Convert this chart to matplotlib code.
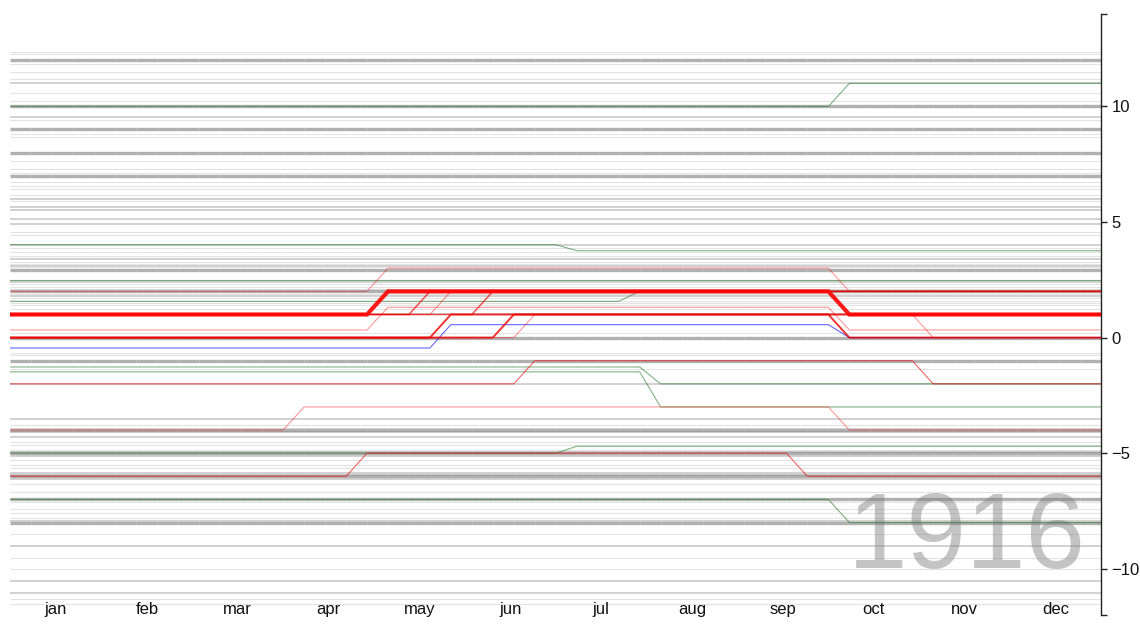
import matplotlib
matplotlib.use("Agg")
import matplotlib.pyplot as plt
from matplotlib.collections import LineCollection
import numpy as np

plt.rcParams['font.family'] = ['Liberation Sans', 'DejaVu Sans']

# ---------------- data ----------------
months = ['jan', 'feb', 'mar', 'apr', 'may', 'jun', 'jul', 'aug', 'sep', 'oct', 'nov', 'dec']
n_weeks = 52
year_label = '1916'
y_ticks = [-10, -5, 0, 5, 10]

# background (grey) series: constant level and overlap weight
gray_values = [12.34, 12.25, 12.0, 11.83, 11.5, 11.19, 11.03, 10.57, 10.25, 10.0,
               9.53, 9.42, 9.02, 8.79, 8.67, 8.0, 7.65, 7.30, 7.11, 6.98,
               6.73, 6.54, 6.42, 6.18, 5.99, 5.89, 5.67, 5.50, 5.14, 4.92,
               4.59, 4.45, 4.02, 3.87, 3.70, 3.55, 3.41, 3.27, 3.20, 3.11,
               3.05, 2.94, 2.50, 2.40, 2.30, 2.20, 2.10, 2.0, 1.90, 1.78,
               1.70, 1.60, 1.50, 1.40, 1.25, 1.0, 0.2, 0.0, -0.65, -0.75,
               -1.02, -1.35, -2.0, -3.51, -3.76, -3.90, -4.0, -4.10, -4.31, -4.50,
               -4.65, -4.85, -4.95, -5.0, -5.10, -5.31, -5.49, -5.65, -5.85, -5.95,
               -6.0, -6.10, -6.35, -6.67, -7.0, -7.10, -7.43, -7.60, -7.79, -7.95,
               -8.03, -8.51, -9.01, -9.52, -10.02, -10.52, -11.03, -11.32, -11.53]
gray_weights = [1, 1, 3, 1, 1, 1, 2, 1, 1, 3,
                2, 1, 3, 1, 1, 3, 1, 1, 1, 3,
                1, 1, 1, 1, 2, 1, 2, 2, 2, 2,
                1, 1, 2, 1, 1, 1, 2, 1, 1, 2,
                1, 3, 1, 2, 1, 1, 1, 3, 1, 2,
                1, 1, 1, 1, 1, 2, 1, 3, 1, 1,
                3, 1, 2, 2, 1, 1, 3, 2, 2, 1,
                1, 1, 2, 3, 2, 1, 1, 1, 2, 2,
                3, 2, 1, 1, 3, 1, 1, 1, 1, 2,
                3, 1, 2, 1, 1, 2, 2, 1, 1]

# green series (week, value vertices)
green_x = [[0, 39, 40, 52], [0, 26, 27, 52], [0, 52], [0, 29, 30, 52],
           [0, 30, 31, 52], [0, 30, 31, 52], [0, 26, 27, 52], [0, 39, 40, 52]]
green_y = [[10, 10, 11, 11], [4.02, 4.02, 3.76, 3.76], [2.48, 2.48], [1.57, 1.57, 2.0, 2.0],
           [-1.27, -1.27, -2.0, -2.0], [-1.48, -1.48, -3.0, -3.0], [-5.0, -5.0, -4.7, -4.7],
           [-7.0, -7.0, -8.0, -8.0]]

# blue series
blue_x = [0, 20, 21, 39, 40, 52]
blue_y = [-0.45, -0.45, 0.56, 0.56, 0.0, 0.0]

# light red series
pink_x = [[0, 20, 21, 52], [0, 24, 25, 43, 44, 52], [0, 17, 18, 39, 40, 52],
          [0, 17, 18, 39, 40, 52], [0, 13, 14, 39, 40, 52]]
pink_y = [[1, 1, 2, 2], [0, 0, 1, 1, 0, 0], [0.33, 0.33, 1.31, 1.31, 0.33, 0.33],
          [2, 2, 3, 3, 2, 2], [-4, -4, -3, -3, -4, -4]]

# thin red series
thin_red_x = [[0, 24, 25, 43, 44, 52], [0, 16, 17, 37, 38, 52]]
thin_red_y = [[-2, -2, -1, -1, -2, -2], [-6, -6, -5, -5, -6, -6]]

# medium red series
red_x = [[0, 19, 20, 52], [0, 22, 23, 52]]
red_y = [[1, 1, 2, 2], [1, 1, 2, 2]]

# bolder red series
bold_red_x = [[0, 20, 21, 39, 40, 52], [0, 23, 24, 52]]
bold_red_y = [[0, 0, 1, 1, 0, 0], [0, 0, 1, 1]]

# highlighted series
main_x = [0, 17, 18, 39, 40, 52]
main_y = [1, 1, 2, 2, 1, 1]

# ---------------- figure ----------------
W, H = 1140, 633
fig = plt.figure(figsize=(W / 100, H / 100), dpi=100)
ax = fig.add_axes([10.5 / W, 18 / H, (1101 - 10.5) / W, (615 - 14) / H])
ax.set_xlim(0, n_weeks)
ax.set_ylim(-12, 14)

ax.text(1086 / W, 1 - 568 / H, year_label, transform=fig.transFigure,
        ha='right', va='baseline', fontsize=77, color='#c4c4c4', zorder=0)

# grey lines as weekly segments
alpha_map = {1: 0.22, 2: 0.42, 3: 0.62}
lw_map = {1: 0.8, 2: 1.2, 3: 2.4}
weeks = np.arange(n_weeks + 1)
for v, w in zip(gray_values, gray_weights):
    segs = [[(weeks[k], v), (weeks[k + 1], v)] for k in range(n_weeks)]
    lc = LineCollection(segs, colors='#808080', alpha=alpha_map[w],
                        linewidths=lw_map[w], capstyle='butt', zorder=1)
    ax.add_collection(lc)

for xs, ys in zip(green_x, green_y):
    ax.plot(xs, ys, color='#2f7f2f', alpha=0.6, lw=0.8, zorder=3)

ax.plot(blue_x, blue_y, color='#0000ff', alpha=0.6, lw=0.8, zorder=3)

for xs, ys in zip(pink_x, pink_y):
    ax.plot(xs, ys, color='#ff0000', alpha=0.4, lw=0.8, zorder=4)

for xs, ys in zip(thin_red_x, thin_red_y):
    ax.plot(xs, ys, color='#ee0000', alpha=0.6, lw=0.8, zorder=4)

for xs, ys in zip(red_x, red_y):
    ax.plot(xs, ys, color='#ee0000', alpha=0.65, lw=1.1, zorder=5)

for xs, ys in zip(bold_red_x, bold_red_y):
    ax.plot(xs, ys, color='#ee0000', alpha=0.8, lw=1.4, zorder=5)

ax.plot(main_x, main_y, color='#ff0000', alpha=0.9, lw=3.0, zorder=6,
        solid_joinstyle='miter')

# axes styling
for s in ['top', 'left', 'bottom']:
    ax.spines[s].set_visible(False)
ax.spines['right'].set_color('#222222')
ax.spines['right'].set_linewidth(1.0)
ax.yaxis.tick_right()
ax.set_yticks(y_ticks)
ax.set_yticklabels([str(t).replace('-', '\u2212') for t in y_ticks])
ax.set_yticks([-12, 14], minor=True)
ax.tick_params(axis='y', which='both', length=4.5, width=1.0, color='#222222',
               labelsize=12, pad=3, labelcolor='#111111')

month_pos = [(i + 0.5) * n_weeks / 12 for i in range(12)]
ax.set_xticks(month_pos)
ax.set_xticklabels(months)
ax.tick_params(axis='x', length=0, pad=-9.5, labelsize=12, labelcolor='#111111')

fig.savefig('out.png', dpi=100)
